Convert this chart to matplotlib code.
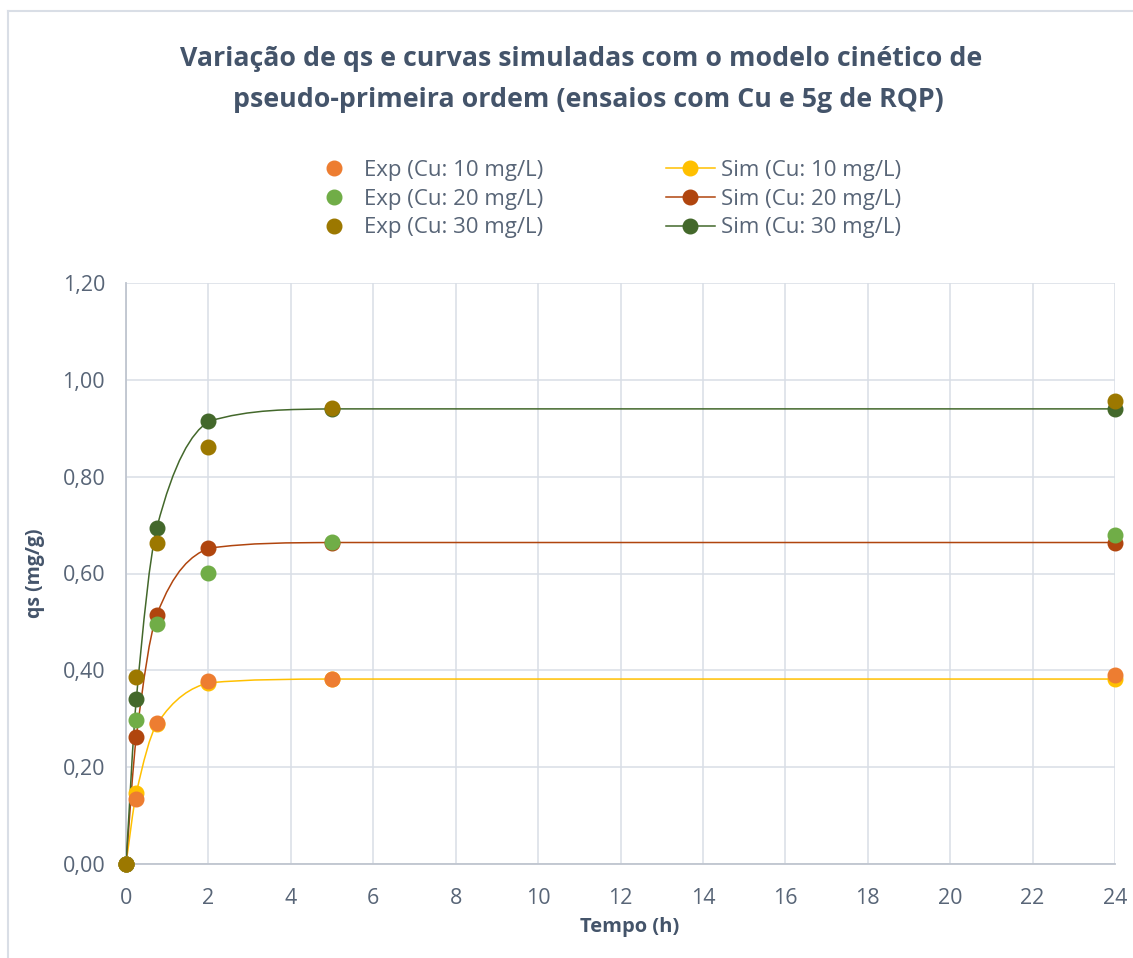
import numpy as np
import matplotlib.pyplot as plt
from matplotlib.path import Path
from matplotlib.patches import PathPatch
from matplotlib.lines import Line2D
from matplotlib.ticker import FuncFormatter, MultipleLocator

plt.rcParams['font.family'] = ['Open Sans', 'DejaVu Sans']

# tempo (h)
tempo = [0, 0.25, 0.75, 2, 5, 24]

# experimental qs (mg/g)
exp_10 = [0, 0.134, 0.291, 0.378, 0.382, 0.390]
exp_20 = [0, 0.298, 0.495, 0.601, 0.665, 0.680]
exp_30 = [0, 0.386, 0.663, 0.862, 0.941, 0.956]

# simulated qs (pseudo-primeira ordem)
sim_10 = [0, 0.146, 0.289, 0.374, 0.382, 0.382]
sim_20 = [0, 0.262, 0.515, 0.652, 0.664, 0.664]
sim_30 = [0, 0.340, 0.695, 0.914, 0.940, 0.940]

text_col = '#44546A'
tick_col = '#586577'
grid_col = '#D9DEE6'


def smooth_path(x, y):
    # smoothed line drawn as cubic Bezier segments (Hermite tangents,
    # control points kept inside each segment's range -> no overshoot)
    x = np.asarray(x, float)
    y = np.asarray(y, float)
    n = len(x)
    m = np.zeros(n)
    m[0] = (y[1] - y[0]) / (x[1] - x[0])
    m[-1] = (y[-1] - y[-2]) / (x[-1] - x[-2])
    for i in range(1, n - 1):
        m[i] = (y[i + 1] - y[i - 1]) / (x[i + 1] - x[i - 1])
    verts = [(x[0], y[0])]
    codes = [Path.MOVETO]
    for i in range(n - 1):
        h = x[i + 1] - x[i]
        lo, hi = min(y[i], y[i + 1]), max(y[i], y[i + 1])
        c1 = (x[i] + h / 3, np.clip(y[i] + m[i] * h / 3, lo, hi))
        c2 = (x[i + 1] - h / 3, np.clip(y[i + 1] - m[i + 1] * h / 3, lo, hi))
        verts += [c1, c2, (x[i + 1], y[i + 1])]
        codes += [Path.CURVE4] * 3
    return Path(verts, codes)


fig = plt.figure(figsize=(11.33, 9.58), dpi=100)
ax = fig.add_axes([126 / 1133, 1 - 864 / 958, (1115 - 126) / 1133, (864 - 283) / 958])

ms = 10.5
sims = [(sim_10, '#FFC000', 'Sim (Cu: 10 mg/L)'),
        (sim_20, '#B0450E', 'Sim (Cu: 20 mg/L)'),
        (sim_30, '#43682B', 'Sim (Cu: 30 mg/L)')]
exps = [(exp_10, '#ED7D31', 'Exp (Cu: 10 mg/L)'),
        (exp_20, '#70AD47', 'Exp (Cu: 20 mg/L)'),
        (exp_30, '#9C7800', 'Exp (Cu: 30 mg/L)')]

handles_exp = []
handles_sim = []
for vals, col, lab in sims:
    ax.add_patch(PathPatch(smooth_path(tempo, vals), facecolor='none',
                           edgecolor=col, lw=1.1, zorder=3))
    ax.plot(tempo, vals, ls='none', marker='o', ms=ms, color=col, zorder=4,
            clip_on=False)
    handles_sim.append(Line2D([], [], color=col, lw=1.1, marker='o', ms=ms))
for vals, col, lab in exps:
    ax.plot(tempo, vals, ls='none', marker='o', ms=ms, color=col, zorder=5,
            clip_on=False)
    handles_exp.append(Line2D([], [], ls='none', marker='o', ms=ms, color=col))

ax.set_xlim(0, 24)
ax.set_ylim(0, 1.2)
ax.xaxis.set_major_locator(MultipleLocator(2))
ax.yaxis.set_major_locator(MultipleLocator(0.2))
ax.yaxis.set_major_formatter(FuncFormatter(lambda v, p: f'{v:.2f}'.replace('.', ',')))
ax.grid(True, color=grid_col, lw=1.1)
ax.set_axisbelow(True)
for s in ['top', 'right']:
    ax.spines[s].set_visible(False)
for s in ['left', 'bottom']:
    ax.spines[s].set_color('#BFC5CF')
    ax.spines[s].set_linewidth(1.3)
ax.tick_params(length=0, labelsize=15.5, colors=tick_col)
ax.tick_params(axis='y', pad=15)
ax.tick_params(axis='x', pad=17)

fig.text(35 / 1133, 1 - 573 / 958, 'qs (mg/g)', rotation=90, ha='center', va='center',
         fontsize=14, fontweight='bold', color=text_col)
fig.text(630 / 1133, 1 - 927 / 958, 'Tempo (h)', ha='center', va='center',
         fontsize=14.5, fontweight='bold', color=text_col)

fig.text(581 / 1133, 1 - 59 / 958, 'Variação de qs e curvas simuladas com o modelo cinético de',
         ha='center', va='center', fontsize=19.3, fontweight='bold', color=text_col)
fig.text(588 / 1133, 1 - 100 / 958, 'pseudo-primeira ordem (ensaios com Cu e 5g de RQP)',
         ha='center', va='center', fontsize=19.3, fontweight='bold', color=text_col)

leg = fig.legend(handles_exp + handles_sim,
                 [e[2] for e in exps] + [s[2] for s in sims],
                 ncol=2, loc='center', bbox_to_anchor=(605 / 1133, 1 - 199 / 958),
                 frameon=False, fontsize=16, labelcolor=tick_col,
                 handlelength=2.2, handletextpad=0.27, columnspacing=5.5,
                 labelspacing=0.35, borderpad=0)

# chart area border
fig.add_artist(Line2D([8 / 1133, 8 / 1133], [0, 1 - 11 / 958], color=grid_col, lw=1.5))
fig.add_artist(Line2D([8 / 1133, 1], [1 - 11 / 958, 1 - 11 / 958], color=grid_col, lw=1.5))

fig.savefig('out.png', dpi=100, facecolor='white')
